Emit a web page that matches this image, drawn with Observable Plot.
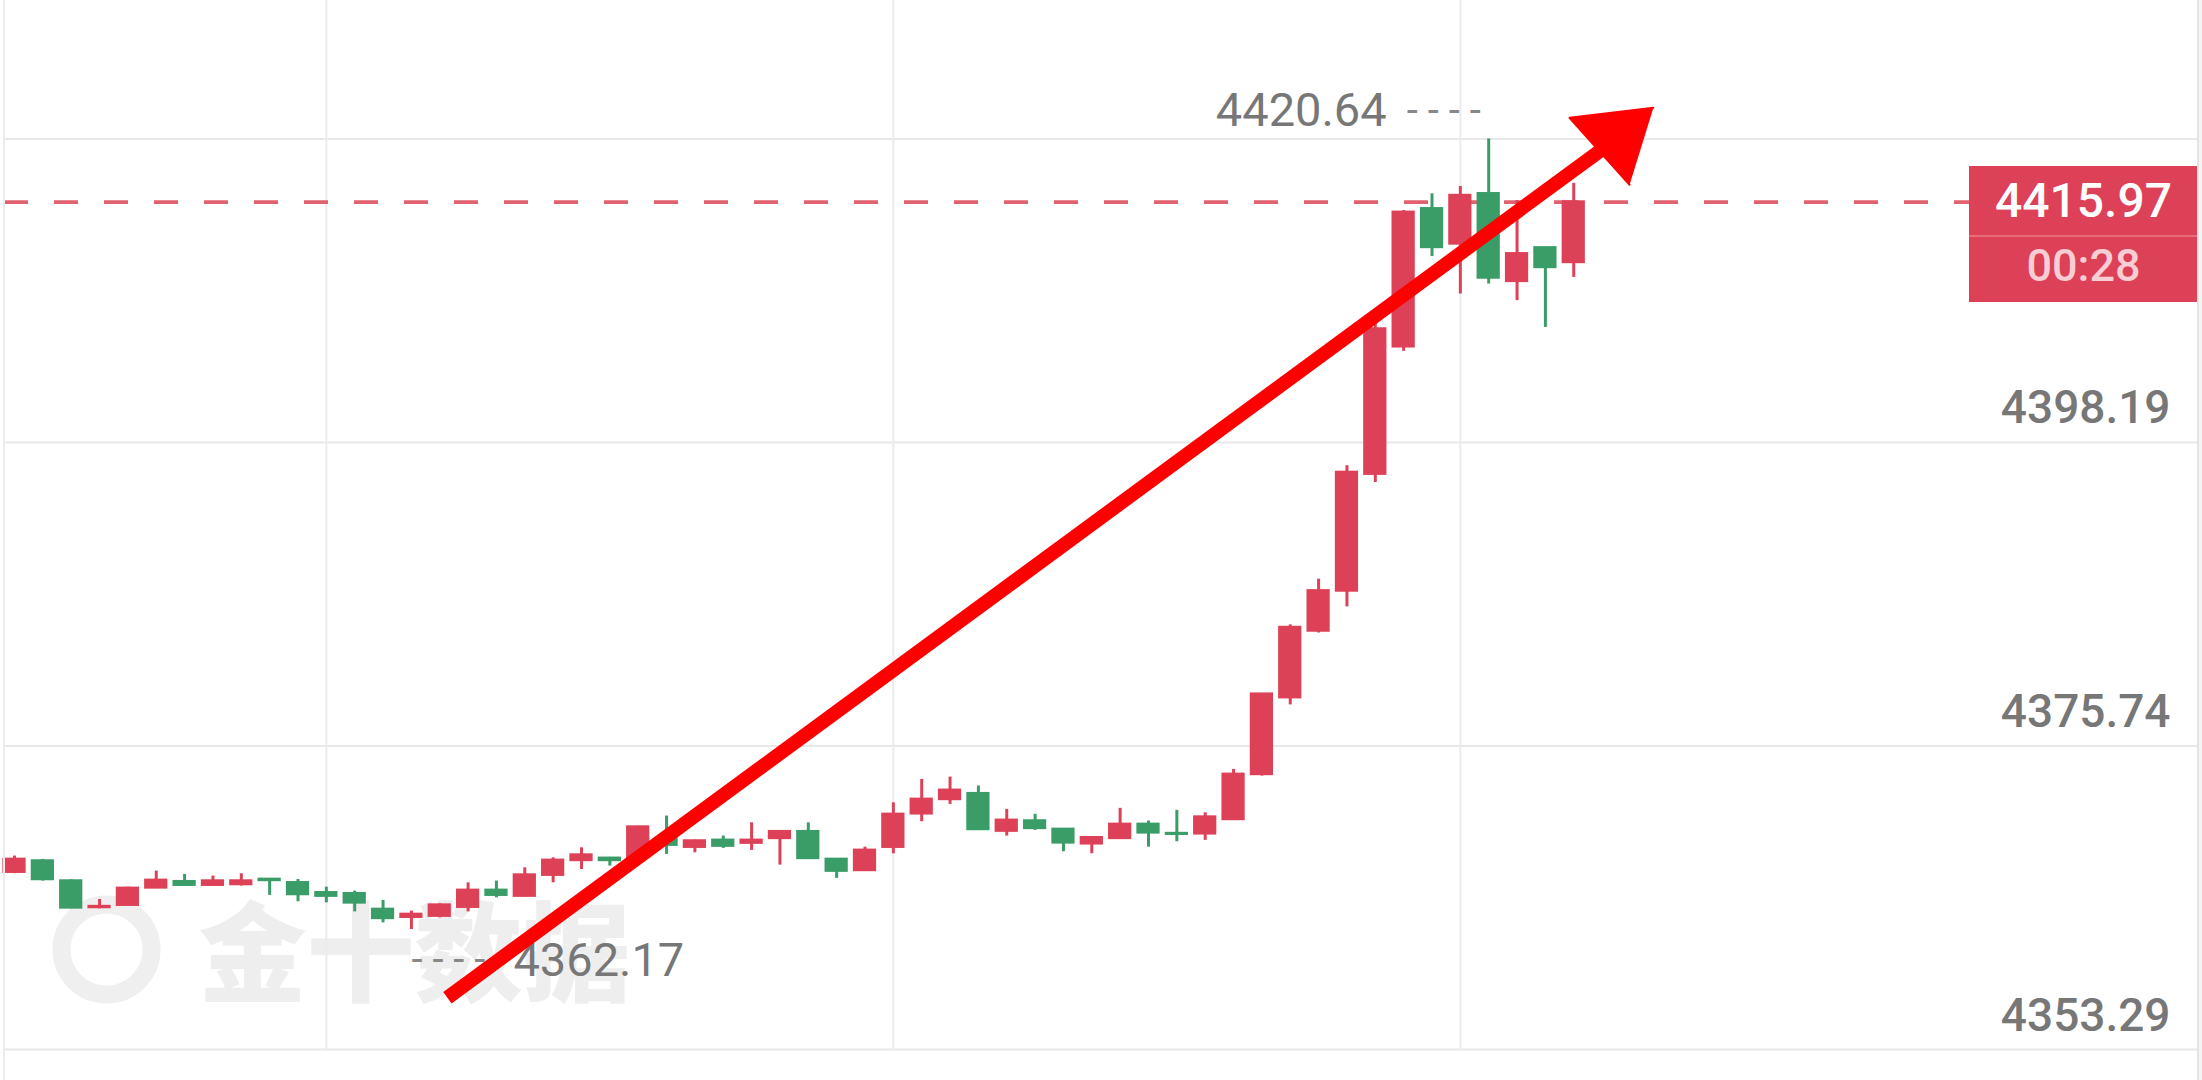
<!DOCTYPE html>
<html><head><meta charset="utf-8">
<script src="https://cdn.jsdelivr.net/npm/d3@7"></script>
<script src="https://cdn.jsdelivr.net/npm/@observablehq/plot@0.6"></script>
<style>
html,body{margin:0;padding:0;background:#fff;}
#wrap{position:relative;width:2202px;height:1080px;overflow:hidden;}
#wrap::before{content:"";position:absolute;left:3px;top:0;width:2px;height:1080px;background:#ededed;}
#wrap::after{content:"";position:absolute;left:2197px;top:0;width:5px;height:1080px;background:#f4f4f4;border-left:2px solid #e4e4e4;}
</style></head><body><div id="wrap"></div>
<script>
// ---- data (1-minute candles) ----
const open  = [4366.41,4367.23,4365.75,4363.80,4363.97,4365.25,4365.70,4365.45,4365.50,4365.87,
               4365.62,4364.88,4364.81,4363.65,4363.08,4363.16,4363.82,4365.06,4364.64,4366.19,
               4367.28,4367.43,4367.48,4368.91,4368.26,4368.76,4368.56,4368.91,4369.40,4367.35,
               4366.54,4368.26,4370.73,4371.79,4372.21,4369.45,4370.19,4369.57,4368.51,4368.91,
               4369.94,4369.26,4369.25,4370.31,4373.64,4379.32,4384.25,4387.21,4395.85,4405.27,
               4415.47,4412.88,4416.58,4410.11,4412.58,4411.51];
const high  = [4367.60,4367.35,4365.85,4364.39,4365.30,4366.49,4366.24,4366.12,4366.29,4365.92,
               4365.87,4365.30,4365.01,4364.32,4363.53,4364.07,4365.62,4365.75,4366.73,4367.47,
               4368.21,4367.50,4369.80,4370.56,4368.78,4369.08,4370.06,4369.45,4370.06,4367.40,
               4368.26,4371.54,4373.27,4373.44,4372.78,4371.05,4370.69,4369.62,4369.00,4371.13,
               4370.19,4370.98,4370.80,4374.01,4379.60,4384.70,4388.08,4396.47,4407.00,4415.34,
               4416.58,4417.12,4420.64,4416.08,4412.60,4417.36];
const low   = [4366.30,4365.75,4363.70,4363.70,4363.90,4365.20,4365.40,4365.40,4365.38,4364.69,
               4364.22,4364.14,4363.47,4362.66,4362.17,4363.03,4363.47,4364.51,4364.60,4365.62,
               4366.61,4366.86,4367.40,4367.72,4367.84,4368.17,4368.02,4366.93,4367.40,4365.95,
               4366.50,4367.77,4370.14,4371.42,4369.50,4369.08,4369.50,4367.92,4367.77,4368.85,
               4368.26,4368.66,4368.76,4370.25,4373.52,4378.78,4384.10,4386.03,4395.23,4404.93,
               4411.94,4409.17,4409.91,4408.68,4406.70,4410.40];
const close = [4367.35,4365.87,4363.77,4363.86,4365.21,4365.80,4365.45,4365.75,4365.75,4365.80,
               4364.76,4364.64,4364.14,4362.99,4363.28,4363.97,4365.06,4364.71,4366.19,4367.28,
               4367.67,4367.28,4369.74,4368.41,4368.71,4368.34,4368.76,4369.40,4367.43,4366.49,
               4368.02,4370.68,4371.79,4372.46,4369.57,4370.24,4369.65,4368.58,4368.95,4369.94,
               4369.32,4369.22,4370.48,4373.64,4379.57,4384.50,4387.21,4395.97,4406.58,4415.21,
               4412.62,4416.45,4410.36,4412.14,4411.14,4415.97];
const priceTickLabels = [4353.29, 4375.74, 4398.19];
const gridPrices = [4353.29, 4375.74, 4398.19, 4420.64];
const timeGridIndex = [11, 31, 51];
const lastPrice = 4415.97;
const countdown = "00:28";
const watermark = "金十数据";
// hand-drawn red arrow, in (candle index, price) units
const arrowShaftI = [15.27, 56.12];
const arrowShaftP = [4357.12, 4420.06];
const arrowHeadI = [57.81, 54.85, 56.97];
const arrowHeadP = [4422.95, 4422.21, 4417.25];

// ---- layout / style ----
const W = 2202, H = 1080;
const firstX = 14, step = 28.35;           // px of candle 0, px per candle
const yDomain = [4351.0, 4430.88];
const UP = "#dd4157", DOWN = "#3a9d68", GRAY = "#777777";

const candles = open.map((o, i) => ({i, open: o, high: high[i], low: low[i], close: close[i],
  color: close[i] >= o ? UP : DOWN}));
const maxHigh = d3.max(high), iMax = high.indexOf(maxHigh);
const minLow = d3.min(low), iMin = low.indexOf(minLow);
const shaft = arrowShaftI.map((x, k) => ({x, y: arrowShaftP[k]}));
const head = arrowHeadI.map((x, k) => ({x, y: arrowHeadP[k]}));

const chart = Plot.plot({
  width: W, height: H, margin: 0,
  x: {domain: [-firstX / step, (W - firstX) / step], axis: null},
  y: {domain: yDomain},
  color: {type: "identity"},
  style: {fontFamily: "Roboto", background: "transparent", overflow: "visible"},
  marks: [
    // watermark
    Plot.dot([0], {frameAnchor: "bottom-left", dx: 106, dy: -131, r: 45, stroke: "#efefef", strokeWidth: 18, fill: "none"}),
    Plot.text([watermark], {frameAnchor: "bottom-left", textAnchor: "start", dx: 198, dy: -88, text: d => d,
      fontSize: 108, fontWeight: 900, fill: "#eeeeee", fontFamily: "Noto Sans CJK SC"}),
    // grid
    Plot.gridY(gridPrices, {stroke: "#e8e8e8", strokeOpacity: 1, strokeWidth: 2, insetLeft: 4, insetRight: 4}),
    Plot.gridX(timeGridIndex, {stroke: "#ebebeb", strokeOpacity: 1, strokeWidth: 2, insetBottom: 31}),
    // last price dashed line
    Plot.ruleY([lastPrice], {stroke: "#e0626f", strokeWidth: 3.8, strokeDasharray: "24 26", strokeDashoffset: -4, insetRight: 233}),
    // candles
    Plot.ruleX(candles, {x: "i", y1: "low", y2: "high", stroke: "color", strokeWidth: 3}),
    Plot.rect(candles, {x1: d => d.i - 0.41, x2: d => d.i + 0.41,
      y1: d => Math.min(d.open, d.close), y2: d => Math.max(d.open, d.close),
      fill: "color", insetTop: -1.3, insetBottom: -1.3}),
    // axis labels
    Plot.axisY(priceTickLabels, {anchor: "right", tickSize: 0, tickPadding: 0, textAnchor: "end",
      lineAnchor: "bottom", dx: -32, dy: -19, fontSize: 46, fontWeight: 500, fill: GRAY,
      tickFormat: d => d.toFixed(2), label: null}),
    // max / min annotations
    Plot.text([0], {x: () => iMax, y: () => maxHigh, text: () => maxHigh.toFixed(2), textAnchor: "end",
      dx: -102, dy: -28, fontSize: 47, fill: GRAY}),
    Plot.text([0], {x: () => iMax, y: () => maxHigh, text: () => "- - - -", textAnchor: "end",
      dx: -8, dy: -28, fontSize: 40, fill: "#888"}),
    Plot.text([0], {x: () => iMin, y: () => minLow, text: () => minLow.toFixed(2), textAnchor: "start",
      dx: 102, dy: 31, fontSize: 47, fill: GRAY}),
    Plot.text([0], {x: () => iMin, y: () => minLow, text: () => "- - - -", textAnchor: "start",
      dx: 0, dy: 31, fontSize: 40, fill: "#888"}),
    // red arrow
    Plot.line(shaft, {x: "x", y: "y", stroke: "#ff0000", strokeWidth: 14, strokeLinecap: "butt"}),
    Plot.line(head, {x: "x", y: "y", fill: "#ff0000", stroke: "#ff0000", strokeWidth: 2}),
    // last price box
    Plot.ruleY([lastPrice], {stroke: UP, strokeWidth: 136, insetLeft: 1969, insetRight: 4, dy: 32}),
    Plot.ruleY([lastPrice], {stroke: "#ea7b89", strokeWidth: 1.5, insetLeft: 1969, insetRight: 4, dy: 34}),
    Plot.text([lastPrice], {y: d => d, frameAnchor: "right", textAnchor: "middle", text: d => d.toFixed(2),
      dx: -119, dy: 0, fontSize: 48, fontWeight: 500, fill: "#ffffff"}),
    Plot.text([lastPrice], {y: d => d, frameAnchor: "right", textAnchor: "middle", text: () => countdown,
      dx: -119, dy: 65, fontSize: 45, fontWeight: 500, fill: "#f8cdd3"})
  ]
});
document.getElementById("wrap").appendChild(chart);
</script>
</body></html>
